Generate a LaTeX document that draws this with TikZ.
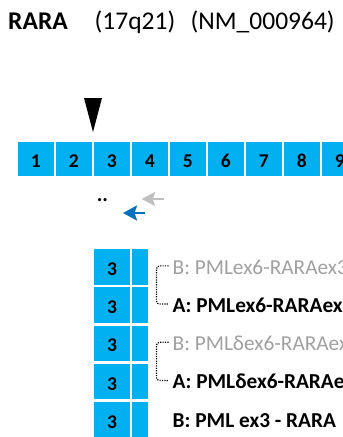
\documentclass[tikz,border=0pt]{standalone}
\usepackage{fontspec}
\setmainfont{Carlito}
\usetikzlibrary{arrows.meta}
\definecolor{exonblue}{RGB}{0,176,240}
\definecolor{fadegray}{RGB}{160,160,160}
\definecolor{arrowgray}{RGB}{191,191,191}
\definecolor{arrowblue}{RGB}{0,112,192}
\begin{document}
\begin{tikzpicture}[x=1pt,y=-1pt,
  exon/.style={fill=exonblue, draw=none, inner sep=0pt,
    minimum width=35.7pt, minimum height=34pt,
    font=\fontsize{19.5}{22}\selectfont\bfseries,
    text height=17.6pt, text depth=0pt},
  stackbox/.style={fill=exonblue, draw=none, inner sep=0pt,
    minimum width=36pt, minimum height=35.5pt,
    font=\fontsize{19.5}{22}\selectfont\bfseries,
    text height=17pt, text depth=0pt},
  stackside/.style={fill=exonblue, draw=none, inner sep=0pt,
    minimum width=16pt, minimum height=35.5pt},
  fusiontext/.style={anchor=base west, inner sep=0pt,
    font=\fontsize{21.3}{25}\selectfont},
  minor/.style={fusiontext, text=fadegray},
  major/.style={fusiontext, font=\fontsize{21.3}{25}\selectfont\bfseries},
  bracket/.style={draw=black, line width=1.2pt, dash pattern=on 1.2pt off 1.2pt,
    rounded corners=3pt, shorten <=4pt, shorten >=4pt},
  titletext/.style={anchor=base west, inner sep=0pt, font=\fontsize{25.5}{30}\selectfont},
]
\useasboundingbox (0,0) rectangle (343,437);
\clip (0,0) rectangle (343,437);

% gene header
\node[titletext, font=\fontsize{25.5}{30}\selectfont\bfseries] (gene) at (8,29.5) {RARA};
\node[titletext] (band) at (94.5,29.5) {(17q21)};
\node[titletext] (acc) at (190.5,29.5) {(NM\_000964)};

% breakpoint marker between exons 2 and 3
\fill (84,98) -- (102,98) -- (93,132) -- cycle;

% exon bar
\foreach \i in {1,...,9}{
  \node[exon] (e\i) at ({18+38*(\i-1)+17.85},159) {\i};
}

% orientation arrows
\node[anchor=base, inner sep=0pt, font=\fontsize{21}{25}\selectfont\bfseries] (dots) at (102.5,201.7) {..};
\coordinate (g0) at (164,199);
\coordinate (g1) at (141.7,199);
\coordinate (b0) at (145,213);
\coordinate (b1) at (123,213);
\draw[arrowgray, line width=2.6pt, -{Stealth[length=13.5pt,width=14pt,inset=2.5pt]}] (g0) -- (g1);
\draw[arrowblue, line width=2.6pt, -{Stealth[length=14pt,width=15pt,inset=2.5pt]}] (b0) -- (b1);

% fusion transcripts
\foreach \i in {1,...,5}{
  \node[stackbox] (s\i) at (112,{249+38.25*(\i-1)+17.75}) {3};
  \node[stackside] (r\i) at (140,{249+38.25*(\i-1)+17.75}) {};
}
\node[minor] (t1) at (172.5,274) {B: PMLex6-RARAex3};
\node[major] (t2) at (172.5,312.25) {A: PMLex6-RARAex3};
\node[minor] (t3) at (172.5,350.5) {B: PMLδex6-RARAex3};
\node[major] (t4) at (172.5,388.75) {A: PMLδex6-RARAex3};
\node[major] (t5) at (172.5,427) {B: PML ex3 - RARA};

\draw[bracket] ([yshift=1pt]t1.west) -- ++(-16,0) |- ([yshift=1pt]t2.west);
\draw[bracket] ([yshift=1pt]t3.west) -- ++(-16,0) |- ([yshift=1pt]t4.west);
\end{tikzpicture}
\end{document}
